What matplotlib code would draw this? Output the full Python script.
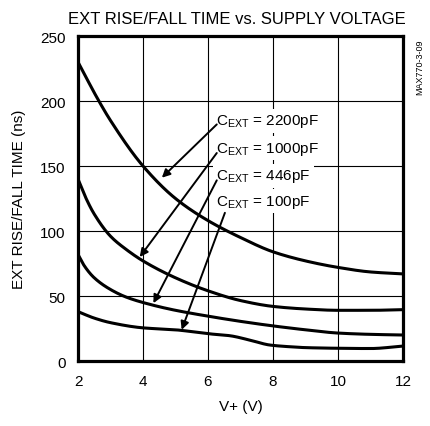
import matplotlib
matplotlib.use("Agg")
import matplotlib.pyplot as plt
import numpy as np
from matplotlib import font_manager

# pick a narrow sans if available
names = {f.name for f in font_manager.fontManager.ttflist}
FONT = "Liberation Sans Narrow" if "Liberation Sans Narrow" in names else "Liberation Sans"
plt.rcParams["font.family"] = [FONT, "DejaVu Sans"]
plt.rcParams["mathtext.fontset"] = "custom"
plt.rcParams["mathtext.rm"] = FONT
plt.rcParams["mathtext.it"] = FONT

# data
v_2200 = [2, 2.62, 3, 4, 5, 6, 7, 8, 9, 10, 11, 12]
t_2200 = [230, 201, 185, 150, 125, 108, 95, 84, 77, 72, 68.5, 67]

v_1000 = [2, 2.25, 2.5, 3, 3.5, 4, 5, 6, 7, 8, 9, 10, 11, 12]
t_1000 = [140, 125, 113, 96, 85.5, 77, 64, 54, 46.5, 42, 40, 39, 39, 39.5]

v_446 = [2, 2.2, 2.5, 3, 3.5, 4.3, 5, 6, 7, 8, 9, 10, 11, 12]
t_446 = [82, 73, 64, 55, 49, 43, 39, 34.5, 30.5, 27, 24, 21.5, 20.5, 20]

v_100 = [2, 2.5, 3, 4, 5, 6, 6.66, 7.3, 7.9, 8.5, 9, 10, 11, 12]
t_100 = [38, 33, 29.5, 25.5, 24, 21, 19.5, 16, 12.3, 11, 10.3, 9.8, 9.6, 11.5]

labels = ["2200pF", "1000pF", "446pF", "100pF"]
label_x = [6.25, 6.25, 6.25, 6.25]
label_y = [185, 163.5, 142.5, 123]
arrow_tail = [(6.27, 182), (6.27, 160), (6.27, 139), (6.52, 114)]
arrow_head = [(4.58, 141), (3.9, 80), (4.32, 44.5), (5.19, 24)]

xticks = [2, 4, 6, 8, 10, 12]
yticks = [0, 50, 100, 150, 200, 250]


def pchip(x, y, xs):
    # monotone cubic through the read points, only to draw a smooth line
    x = np.asarray(x, float)
    y = np.asarray(y, float)
    h = np.diff(x)
    d = np.diff(y) / h
    m = np.zeros_like(y)
    for k in range(1, len(x) - 1):
        if d[k - 1] * d[k] > 0:
            w1 = 2 * h[k] + h[k - 1]
            w2 = h[k] + 2 * h[k - 1]
            m[k] = (w1 + w2) / (w1 / d[k - 1] + w2 / d[k])
    m[0] = d[0]
    m[-1] = d[-1]
    i = np.clip(np.searchsorted(x, xs) - 1, 0, len(x) - 2)
    t = (xs - x[i]) / h[i]
    h00 = 2 * t**3 - 3 * t**2 + 1
    h10 = t**3 - 2 * t**2 + t
    h01 = -2 * t**3 + 3 * t**2
    h11 = t**3 - t**2
    return h00 * y[i] + h10 * h[i] * m[i] + h01 * y[i + 1] + h11 * h[i] * m[i + 1]


fig = plt.figure(figsize=(4.3, 4.27), dpi=100)
ax = fig.add_axes([0.1814, 0.1522, 0.7558, 0.7611])

ax.set_xlim(2, 12)
ax.set_ylim(0, 250)
ax.set_xticks(xticks)
ax.set_yticks(yticks)
ax.grid(True, color="black", linewidth=0.8)
ax.tick_params(length=0, labelsize=11, pad=9)
for s in ax.spines.values():
    s.set_linewidth(2.3)

xs = np.linspace(2, 12, 400)
for v, t in [(v_2200, t_2200), (v_1000, t_1000), (v_446, t_446), (v_100, t_100)]:
    ax.plot(xs, pchip(v, t, xs), color="black", linewidth=2.2, zorder=3)

for lab, lx, ly, tail, head in zip(labels, label_x, label_y, arrow_tail, arrow_head):
    ax.text(lx, ly, r"C$_{\mathrm{EXT}}$ = " + lab, fontsize=11, va="center", ha="left",
            bbox=dict(facecolor="white", edgecolor="none", pad=2.5), zorder=4)
    ax.annotate("", xy=head, xytext=tail,
                arrowprops=dict(arrowstyle="-|>", color="black", lw=1.4,
                                mutation_scale=12, shrinkA=0, shrinkB=0), zorder=5)

ax.set_xlabel("V+ (V)", fontsize=11, labelpad=8)
ax.set_ylabel("EXT RISE/FALL TIME (ns)", fontsize=11, labelpad=10)
fig.text(0.552, 0.955, "EXT RISE/FALL TIME vs. SUPPLY VOLTAGE", fontsize=12,
         ha="center", va="center")
fig.text(0.977, 0.908, "MAX770-3-09", fontsize=6.5, rotation=90, ha="center", va="top")

fig.savefig("out.png", dpi=100)
